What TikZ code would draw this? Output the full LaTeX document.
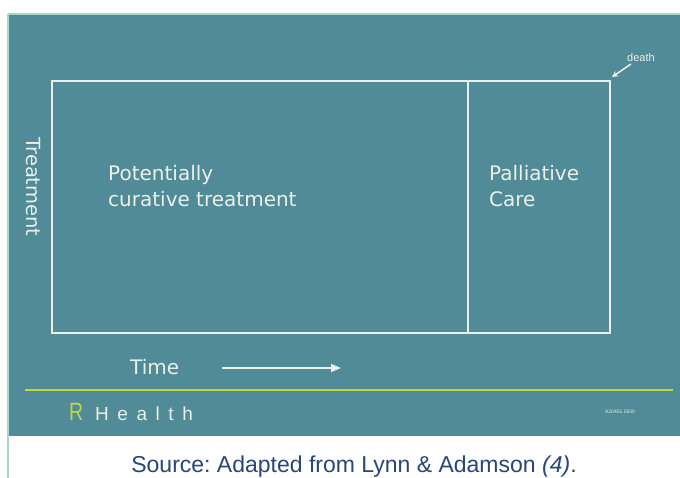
\documentclass[tikz,border=0pt]{standalone}
\usepackage{fontspec}
\setmainfont{Liberation Sans}
\newfontfamily\djv{DejaVu Sans}
\usetikzlibrary{arrows.meta}
\definecolor{teal1}{RGB}{80,139,151}
\definecolor{lineW}{RGB}{235,240,232}
\definecolor{ygreen}{RGB}{196,214,60}
\definecolor{srcblue}{RGB}{40,70,120}
\definecolor{edge}{RGB}{170,215,195}
\begin{document}
\frenchspacing
\begin{tikzpicture}[x=1pt,y=-1pt,
  lbl/.style={text=lineW,font=\djv\fontsize{20}{26}\selectfont,anchor=base west,align=left,inner sep=0pt},
  wline/.style={draw=lineW,line width=1.3pt}]
\useasboundingbox (0,0) rectangle (680,478);
\fill[white] (0,0) rectangle (680,478);
\draw[edge,line width=1.5pt] (8,14) -- (8,478);
\draw[edge,line width=1.5pt] (8,14) -- (680,14);
\fill[teal1] (9,15) rectangle (680,436);
% boxes
\coordinate (tl) at (52,81);
\coordinate (br) at (610,333);
\draw[wline] (tl) rectangle (br);
\coordinate (dt) at (468,81);
\coordinate (db) at (468,333);
\draw[wline] (dt) -- (db);
% labels
\node[lbl] (pot) at (108,207) {Potentially\\curative treatment};
\node[lbl] (pal) at (489,207) {Palliative\\Care};
\node[text=lineW,font=\djv\fontsize{19.5}{21}\selectfont,rotate=-90,inner sep=0pt] (trt) at (33,187) {Treatment};
% death
\node[text=lineW,font=\fontsize{11}{12}\selectfont,inner sep=0pt] (death) at (641,58) {death};
\coordinate (dA) at (631,64);
\coordinate (dB) at (612,77);
\draw[draw=lineW,line width=1.5pt,-{Stealth[length=6pt,width=6pt]}] (dA) -- (dB);
% time
\node[lbl] (time) at (130,374) {Time};
\coordinate (tA) at (222,368);
\coordinate (tB) at (341,368);
\draw[draw=lineW,line width=1.3pt,-{Triangle[length=10pt,width=8pt]}] (tA) -- (tB);
% green line
\coordinate (gA) at (25,390);
\coordinate (gB) at (673,390);
\draw[ygreen,line width=1.3pt] (gA) -- (gB);
\node[anchor=base west,inner sep=0pt,text=ygreen,font=\fontsize{25}{26}\selectfont] (R) at (69,420) {\scalebox{0.78}[1]{R}};
\node[anchor=base west,inner sep=0pt,text=lineW,font=\fontsize{19}{20}\selectfont\addfontfeatures{LetterSpace=45}] (hl) at (95,420) {Health};
\node[text=lineW,font=\fontsize{5}{6}\selectfont,inner sep=0pt] (code) at (620,412) {A20451 0500};
% source
\node[anchor=base,text=srcblue,font=\fontsize{23}{26}\selectfont,inner sep=0pt] (src) at (354,472) {Source: Adapted from Lynn \& Adamson \textit{(4)}.};
\end{tikzpicture}
\end{document}
